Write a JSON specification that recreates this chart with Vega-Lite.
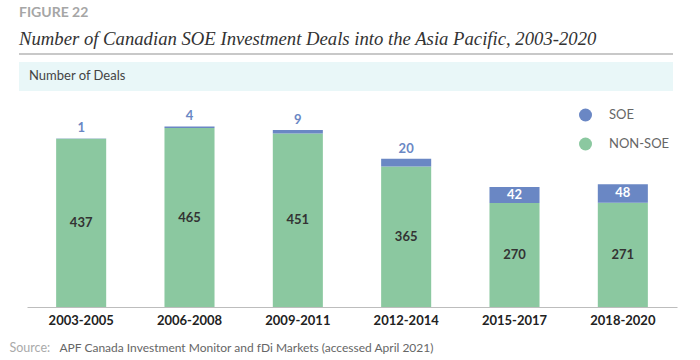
{
  "$schema": "https://vega.github.io/schema/vega-lite/v6.json",
  "padding": {"left": 9, "top": 6, "right": 5, "bottom": 5},
  "background": "white",
  "title": {
    "text": "FIGURE 22",
    "subtitle": "Number of Canadian SOE Investment Deals into the Asia Pacific, 2003-2020",
    "anchor": "start",
    "frame": "group",
    "font": "Lato",
    "fontSize": 14,
    "fontWeight": "bold",
    "color": "#a6a6a6",
    "subtitleFont": "Liberation Serif",
    "subtitleFontStyle": "italic",
    "subtitleFontSize": 18.7,
    "subtitleColor": "#333333",
    "subtitlePadding": 10,
    "offset": 4
  },
  "datasets": {
    "deals": [
      {"period": "2003-2005", "type": "NON-SOE", "value": 437},
      {"period": "2003-2005", "type": "SOE", "value": 1},
      {"period": "2006-2008", "type": "NON-SOE", "value": 465},
      {"period": "2006-2008", "type": "SOE", "value": 4},
      {"period": "2009-2011", "type": "NON-SOE", "value": 451},
      {"period": "2009-2011", "type": "SOE", "value": 9},
      {"period": "2012-2014", "type": "NON-SOE", "value": 365},
      {"period": "2012-2014", "type": "SOE", "value": 20},
      {"period": "2015-2017", "type": "NON-SOE", "value": 270},
      {"period": "2015-2017", "type": "SOE", "value": 42},
      {"period": "2018-2020", "type": "NON-SOE", "value": 271},
      {"period": "2018-2020", "type": "SOE", "value": 48}
    ]
  },
  "bounds": "flush",
  "spacing": 7,
  "vconcat": [
    {
      "width": 654,
      "height": 2,
      "view": {"stroke": null},
      "data": {"values": [{"label": ""}]},
      "mark": {"type": "rect", "color": "#c8c8c8"},
      "encoding": {
        "x": {"value": 0},
        "x2": {"value": 654},
        "y": {"value": 0},
        "y2": {"value": 2}
      }
    },
    {
      "width": 654,
      "height": 29,
      "view": {"fill": "#e9f7f8", "stroke": null},
      "data": {"values": [{"label": "Number of Deals"}]},
      "mark": {"type": "text", "align": "left", "baseline": "middle", "font": "Lato", "fontSize": 13, "color": "#444444"},
      "encoding": {
        "text": {"field": "label"},
        "x": {"value": 10},
        "y": {"value": 13.5}
      }
    },
    {
      "width": 658,
      "height": 209,
      "view": {"stroke": null},
      "data": {"name": "deals"},
      "resolve": {"scale": {"y": "independent"}},
      "layer": [
        {
          "mark": {"type": "bar"},
          "encoding": {
            "x": {
              "field": "period", "type": "nominal", "sort": null,
              "scale": {"range": [8, 658], "paddingInner": 0.538, "paddingOuter": 0.269},
              "axis": {
                "title": "APF Canada Investment Monitor and fDi Markets (accessed April 2021)",
                "titleX": 40, "titleY": 40, "titleAlign": "left", "titleAnchor": "start",
                "titleBaseline": "middle", "titleFont": "Lato", "titleFontSize": 12,
                "titleFontWeight": "normal", "titleColor": "#666666",
                "labelAngle": 0, "labelFont": "Lato", "labelFontSize": 13, "labelFontWeight": "bold",
                "labelColor": "#222222", "labelPadding": 7, "ticks": false,
                "domainColor": "#bdbdbd", "domainWidth": 1, "grid": false
              }
            },
            "y": {
              "field": "value", "type": "quantitative", "stack": "zero",
              "scale": {"domain": [0, 543], "nice": false},
              "axis": {
                "title": "Source:", "titleAngle": 0, "titleX": -10, "titleY": 249,
                "titleAlign": "left", "titleBaseline": "middle", "titleFont": "Lato",
                "titleFontSize": 12.5, "titleFontWeight": "normal", "titleColor": "#aaaaaa",
                "labels": false, "ticks": false, "domain": false, "grid": false
              }
            },
            "color": {
              "field": "type", "type": "nominal",
              "scale": {"domain": ["SOE", "NON-SOE"], "range": ["#6a87c4", "#8bc8a0"]},
              "legend": {
                "title": null, "orient": "none", "legendX": 560, "legendY": 55.5,
                "symbolType": "circle", "symbolSize": 169, "symbolStrokeWidth": 0,
                "labelFont": "Lato", "labelFontSize": 13, "labelColor": "#666666",
                "rowPadding": 15, "labelOffset": 17, "padding": 0
              }
            },
            "order": {"field": "type", "sort": "ascending"}
          }
        },
        {
          "transform": [{"filter": "datum.type == 'NON-SOE'"}],
          "mark": {"type": "text", "font": "Lato", "fontSize": 13, "fontWeight": "bold", "color": "#333333", "baseline": "middle"},
          "encoding": {
            "x": {"field": "period", "type": "nominal", "sort": null},
            "y": {"field": "value", "type": "quantitative", "scale": {"domain": [0, 1086], "nice": false}, "axis": null},
            "text": {"field": "value", "type": "quantitative"}
          }
        },
        {
          "transform": [
            {"stack": "value", "groupby": ["period"], "sort": [{"field": "type", "order": "ascending"}], "as": ["v0", "v1"]},
            {"filter": "datum.type == 'SOE' && datum.value < 30"}
          ],
          "mark": {"type": "text", "font": "Lato", "fontSize": 13, "fontWeight": "bold", "color": "#6a87c4", "baseline": "middle", "dy": -10},
          "encoding": {
            "x": {"field": "period", "type": "nominal", "sort": null},
            "y": {"field": "v1", "type": "quantitative", "scale": {"domain": [0, 543], "nice": false}, "axis": null},
            "text": {"field": "value", "type": "quantitative"}
          }
        },
        {
          "transform": [
            {"stack": "value", "groupby": ["period"], "sort": [{"field": "type", "order": "ascending"}], "as": ["v0", "v1"]},
            {"filter": "datum.type == 'SOE' && datum.value >= 30"}
          ],
          "mark": {"type": "text", "font": "Lato", "fontSize": 13, "fontWeight": "bold", "color": "#ffffff", "baseline": "middle", "dy": 8.5},
          "encoding": {
            "x": {"field": "period", "type": "nominal", "sort": null},
            "y": {"field": "v1", "type": "quantitative", "scale": {"domain": [0, 543], "nice": false}, "axis": null},
            "text": {"field": "value", "type": "quantitative"}
          }
        }
      ]
    }
  ]
}
